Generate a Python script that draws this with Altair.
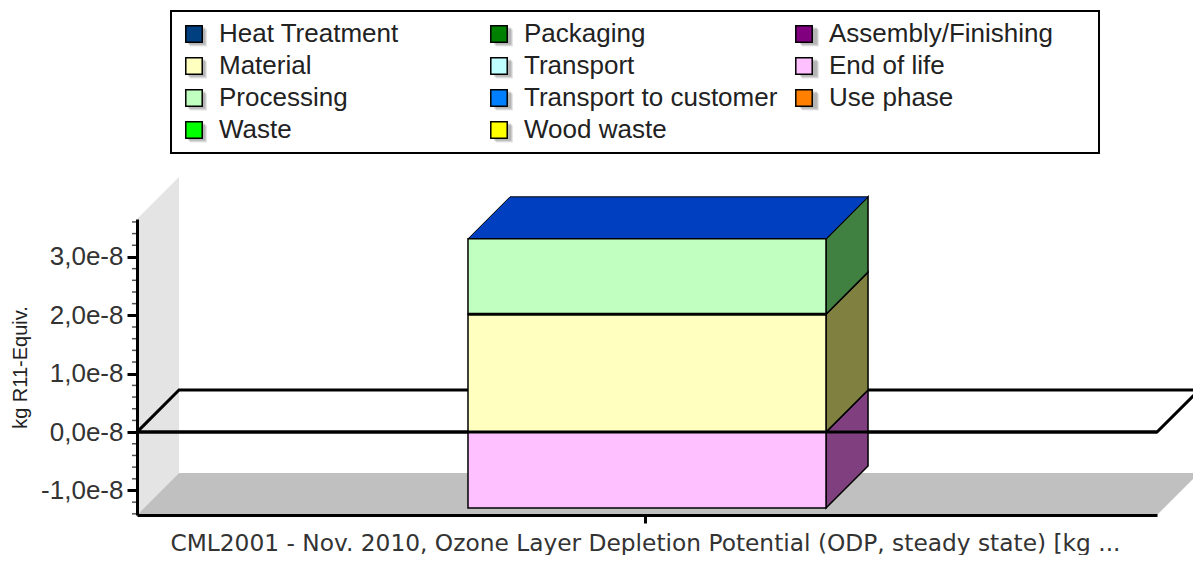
import altair as alt
import pandas as pd

SERIES = ["Heat Treatment", "Material", "Processing", "Waste",
          "Packaging", "Transport", "Transport to customer", "Wood waste",
          "Assembly/Finishing", "End of life", "Use phase"]
COLORS = ["#004080", "#ffffc0", "#c0ffc0", "#00ff00",
          "#008000", "#c0ffff", "#0080ff", "#ffff00",
          "#800080", "#ffc0ff", "#ff8000"]
LEGEND_COLUMN = [0, 0, 0, 0, 1, 1, 1, 1, 2, 2, 2]
LEGEND_ROW = [0, 1, 2, 3, 0, 1, 2, 3, 0, 1, 2]

STACK_NAMES = ["End of life", "Material", "Processing"]
STACK_LOW = [-1.30e-8, 0.0, 2.02e-8]
STACK_HIGH = [0.0, 2.02e-8, 3.31e-8]
SIDE_COLORS = ["#804080", "#808040", "#408040"]
TOP_COLOR = "#0040c0"

CATEGORY = "CML2001 - Nov. 2010, Ozone Layer Depletion Potential (ODP, steady state) [kg ..."
MAJOR_TICKS = [-1e-8, 0.0, 1e-8, 2e-8, 3e-8]
MINOR_TICKS = [-1.4e-8, -1.2e-8, -0.8e-8, -0.6e-8, -0.4e-8, -0.2e-8,
               0.2e-8, 0.4e-8, 0.6e-8, 0.8e-8, 1.2e-8, 1.4e-8, 1.6e-8, 1.8e-8,
               2.2e-8, 2.4e-8, 2.6e-8, 2.8e-8, 3.2e-8, 3.4e-8, 3.6e-8]

Y_MIN, Y_MAX = -1.42e-8, 3.65e-8
BAR_L, BAR_R = 0.3245, 0.6755
CATEGORY_X = 0.498
DX, DY = 0.0412, 0.72e-8

FONT = "Liberation Sans"
x_s = alt.Scale(domain=[0, 1], nice=False, zero=False)
y_s = alt.Scale(domain=[Y_MIN, Y_MAX], nice=False, zero=False)

y_axis = alt.Axis(
    title="kg R11-Equiv.", titleFont=FONT, titleFontSize=20, titleFontWeight="normal",
    titleColor="#222222", titlePadding=10,
    values=MAJOR_TICKS, grid=False, tickSize=10, tickWidth=3, tickColor="#000000",
    domainWidth=3, domainColor="#000000", labelFont=FONT, labelFontSize=26,
    labelColor="#333333", labelPadding=4, zindex=1,
    labelExpr="(datum.value < 0 ? '-' : '') + replace(format(abs(datum.value) * 1e8, '.1f'), '.', ',') + 'e-8'",
)
x_axis = alt.Axis(
    title=None, values=[CATEGORY_X], labelExpr=f"'{CATEGORY}'", grid=False, tickSize=8, tickWidth=3,
    tickColor="#000000", domainWidth=3, domainColor="#000000", labelFont="DejaVu Sans", labelFontSize=23.3,
    labelColor="#333333", labelPadding=9, labelLimit=1100, zindex=1,
)
X = lambda f: alt.X(f, type="quantitative", scale=x_s, axis=x_axis)
Y = lambda f: alt.Y(f, type="quantitative", scale=y_s, axis=y_axis)


def vertical_face(xa, low, high):
    """Parallelogram receding from x=xa, between the values low and high."""
    return pd.DataFrame({"x": [xa, xa + DX], "y": [low, low + DY], "y2": [high, high + DY]})


def horizontal_face(xa, xb, level):
    return pd.DataFrame({"y": [level, level + DY], "x": [xa, xa + DX], "x2": [xb, xb + DX]})


def vface(df, **kw):
    return alt.Chart(df).mark_area(orient="vertical", **kw).encode(
        x=X("x"), y=Y("y"), y2=alt.Y2("y2"))


def hface(df, **kw):
    return alt.Chart(df).mark_area(orient="horizontal", **kw).encode(
        y=Y("y"), x=X("x"), x2=alt.X2("x2"))


wall = vface(vertical_face(0, Y_MIN, Y_MAX), fill="#e4e4e4")
floor = hface(horizontal_face(0, 1, Y_MIN), fill="#c0c0c0")
plane = hface(horizontal_face(0, 1, 0.0), fill="#ffffff", fillOpacity=0,
              stroke="#000000", strokeWidth=3)

sides = [vface(vertical_face(BAR_R, lo, hi), fill=c, stroke="#000000", strokeWidth=1.5)
         for lo, hi, c in zip(STACK_LOW, STACK_HIGH, SIDE_COLORS)]
top = hface(horizontal_face(BAR_L, BAR_R, STACK_HIGH[-1]), fill=TOP_COLOR,
            stroke="#000000", strokeWidth=1)

bars_df = pd.DataFrame({"series": STACK_NAMES, "lo": STACK_LOW, "hi": STACK_HIGH,
                        "l": [BAR_L] * 3, "r": [BAR_R] * 3})
legend = alt.Legend(
    title=None, orient="none", legendX=34, legendY=-208, columns=3, gridAlign="all",
    symbolType="square", symbolSize=270, symbolStrokeColor="#000000", symbolStrokeWidth=1.5,
    labelFont=FONT, labelFontSize=26, labelColor="#222222", labelLimit=400,
    labelOffset=12, columnPadding=13, rowPadding=6, padding=10,
    values=SERIES,
)
bars = alt.Chart(bars_df).mark_rect(stroke="#000000", strokeWidth=1.5).encode(
    x=X("l"), x2=alt.X2("r"), y=Y("lo"), y2=alt.Y2("hi"),
    fill=alt.Fill("series:N", scale=alt.Scale(domain=SERIES, range=COLORS), legend=legend),
)
joint = alt.Chart(pd.DataFrame({"y": [STACK_HIGH[1]], "a": [BAR_L], "b": [BAR_R]})).mark_rule(
    color="#000000", strokeWidth=3).encode(x=X("a"), x2=alt.X2("b"), y=Y("y"))
zero = alt.Chart(pd.DataFrame({"y": [0.0], "a": [0.0], "b": [1.0]})).mark_rule(
    color="#000000", strokeWidth=3).encode(x=X("a"), x2=alt.X2("b"), y=Y("y"))

minor = alt.Chart(pd.DataFrame({"y": MINOR_TICKS})).mark_rule(
    color="#555555", strokeWidth=1.5).encode(y=Y("y"), x=alt.value(-5), x2=alt.value(0))

# legend frame and the soft shadows behind its swatches
frame = alt.Chart(pd.DataFrame({"k": [0]})).mark_rect(
    fill="#ffffff", stroke="#000000", strokeWidth=2).encode(
    x=alt.value(34), x2=alt.value(962), y=alt.value(-208), y2=alt.value(-66))
shadow_df = pd.DataFrame({"c": LEGEND_COLUMN, "r": LEGEND_ROW})
shadow_df["sx"] = shadow_df["c"] * 306 + 56.5
shadow_df["sy"] = shadow_df["r"] * 32 - 186


def shadow(offset, opacity):
    return alt.Chart(shadow_df).transform_calculate(
        px=f"datum.sx + {offset}", py=f"datum.sy + {offset}"
    ).mark_square(size=289, color="#808080", opacity=opacity, strokeWidth=0).encode(
        x=alt.X("px:Q", scale=None), y=alt.Y("py:Q", scale=None))


chart = alt.layer(wall, floor, plane, *sides, top, bars, joint, zero, minor,
                  frame, shadow(5, 0.2), shadow(4, 0.25), shadow(3, 0.3)).properties(
    width=1020, height=296,
    padding={"left": 129, "top": 211, "right": 36, "bottom": 40},
    autosize=alt.AutoSizeParams(type="none"),
    background="#ffffff",
).resolve_scale(x="shared", y="shared").configure_view(stroke=None)

chart.save("out.html", embed_options={"renderer": "svg", "actions": False})
